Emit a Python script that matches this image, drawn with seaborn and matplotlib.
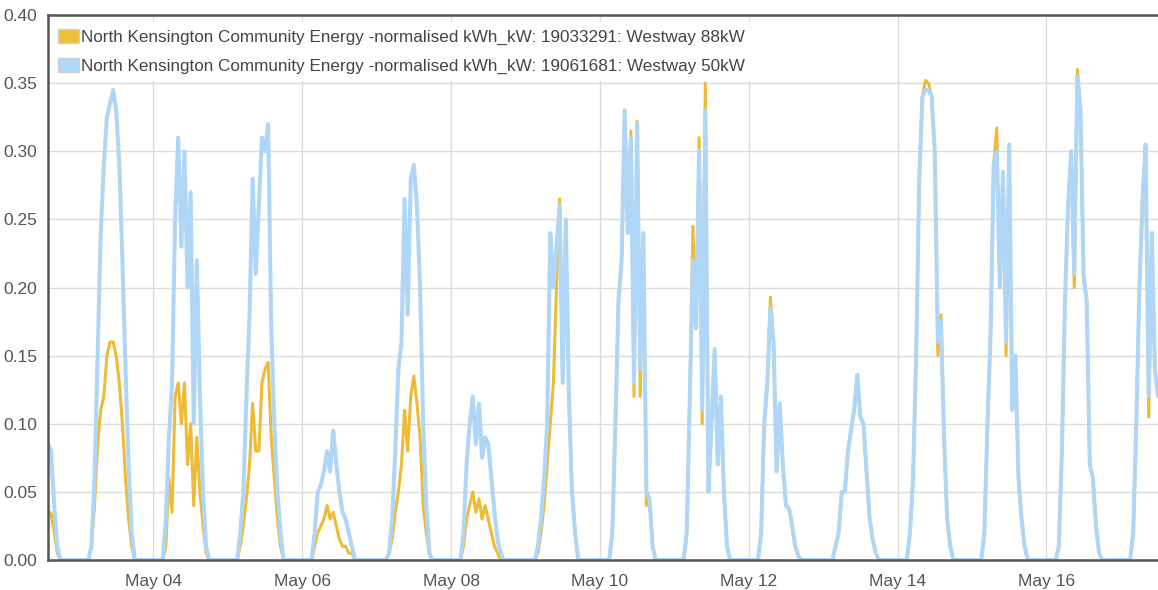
import pandas as pd
import numpy as np
import seaborn as sns
import matplotlib.pyplot as plt
import matplotlib.dates as mdates
from matplotlib.patches import Patch

label_88 = "North Kensington Community Energy -normalised kWh_kW: 19033291: Westway 88kW"
label_50 = "North Kensington Community Energy -normalised kWh_kW: 19061681: Westway 50kW"

# daylight readings per day, hourly, starting at first_hour (nights are 0)
days = ["2017-05-02", "2017-05-03", "2017-05-04", "2017-05-05", "2017-05-06",
        "2017-05-07", "2017-05-08", "2017-05-09", "2017-05-10", "2017-05-11",
        "2017-05-12", "2017-05-13", "2017-05-14", "2017-05-15", "2017-05-16",
        "2017-05-17"]
first_hour = [14, 3, 3, 3, 3, 3, 3, 3, 3, 3, 3, 3, 3, 3, 3, 3]

westway_50kw = [
    [0.085, 0.08, 0.04, 0.01, 0.0],
    [0.0, 0.01, 0.06, 0.15, 0.24, 0.29, 0.325, 0.335, 0.345, 0.33, 0.29, 0.22, 0.14, 0.07, 0.02, 0.0],
    [0.0, 0.03, 0.09, 0.13, 0.25, 0.31, 0.23, 0.30, 0.20, 0.27, 0.10, 0.22, 0.12, 0.05, 0.01, 0.0],
    [0.0, 0.02, 0.05, 0.12, 0.18, 0.28, 0.21, 0.26, 0.31, 0.30, 0.32, 0.17, 0.10, 0.05, 0.02, 0.0],
    [0.0, 0.02, 0.05, 0.055, 0.065, 0.08, 0.065, 0.095, 0.07, 0.05, 0.035, 0.03, 0.02, 0.01, 0.0, 0.0],
    [0.0, 0.005, 0.03, 0.08, 0.14, 0.16, 0.265, 0.18, 0.28, 0.29, 0.26, 0.20, 0.10, 0.04, 0.005, 0.0],
    [0.0, 0.02, 0.07, 0.10, 0.12, 0.085, 0.115, 0.075, 0.09, 0.085, 0.06, 0.035, 0.015, 0.005, 0.0, 0.0],
    [0.0, 0.01, 0.03, 0.06, 0.10, 0.24, 0.20, 0.23, 0.26, 0.13, 0.25, 0.12, 0.05, 0.02, 0.0, 0.0],
    [0.0, 0.02, 0.10, 0.19, 0.22, 0.33, 0.24, 0.31, 0.13, 0.32, 0.14, 0.24, 0.05, 0.045, 0.01, 0.0],
    [0.0, 0.02, 0.12, 0.22, 0.17, 0.30, 0.11, 0.33, 0.05, 0.10, 0.155, 0.07, 0.12, 0.05, 0.01, 0.0],
    [0.0, 0.02, 0.10, 0.13, 0.185, 0.16, 0.065, 0.115, 0.07, 0.04, 0.038, 0.025, 0.01, 0.003, 0.0, 0.0],
    [0.0, 0.01, 0.02, 0.05, 0.05, 0.08, 0.095, 0.11, 0.136, 0.105, 0.10, 0.065, 0.03, 0.015, 0.005, 0.0],
    [0.0, 0.02, 0.06, 0.15, 0.28, 0.34, 0.345, 0.345, 0.34, 0.30, 0.16, 0.175, 0.09, 0.03, 0.01, 0.0],
    [0.0, 0.02, 0.10, 0.165, 0.29, 0.30, 0.20, 0.285, 0.16, 0.305, 0.11, 0.15, 0.06, 0.03, 0.01, 0.0],
    [0.0, 0.01, 0.08, 0.19, 0.26, 0.30, 0.21, 0.355, 0.33, 0.21, 0.19, 0.07, 0.06, 0.025, 0.005, 0.0],
    [0.0, 0.02, 0.10, 0.20, 0.26, 0.305, 0.12, 0.24, 0.14, 0.12],
]

westway_88kw = [
    [0.036, 0.034, 0.02, 0.005, 0.0],
    [0.0, 0.01, 0.04, 0.085, 0.11, 0.12, 0.15, 0.16, 0.16, 0.15, 0.13, 0.10, 0.06, 0.03, 0.01, 0.0],
    [0.0, 0.01, 0.06, 0.035, 0.12, 0.13, 0.10, 0.13, 0.07, 0.10, 0.04, 0.09, 0.05, 0.025, 0.005, 0.0],
    [0.0, 0.01, 0.025, 0.045, 0.07, 0.115, 0.08, 0.08, 0.13, 0.14, 0.145, 0.09, 0.06, 0.03, 0.01, 0.0],
    [0.0, 0.01, 0.02, 0.025, 0.03, 0.04, 0.03, 0.035, 0.025, 0.015, 0.01, 0.01, 0.005, 0.005, 0.0, 0.0],
    [0.0, 0.005, 0.015, 0.035, 0.05, 0.07, 0.11, 0.08, 0.12, 0.135, 0.115, 0.09, 0.04, 0.02, 0.005, 0.0],
    [0.0, 0.01, 0.03, 0.04, 0.05, 0.035, 0.045, 0.03, 0.04, 0.03, 0.02, 0.01, 0.005, 0.0, 0.0, 0.0],
    [0.0, 0.005, 0.02, 0.04, 0.07, 0.10, 0.13, 0.20, 0.265, 0.13, 0.25, 0.12, 0.05, 0.02, 0.0, 0.0],
    [0.0, 0.02, 0.10, 0.19, 0.22, 0.33, 0.24, 0.315, 0.12, 0.322, 0.12, 0.24, 0.04, 0.045, 0.01, 0.0],
    [0.0, 0.02, 0.12, 0.245, 0.17, 0.31, 0.10, 0.35, 0.05, 0.10, 0.155, 0.07, 0.12, 0.05, 0.01, 0.0],
    [0.0, 0.02, 0.10, 0.13, 0.193, 0.16, 0.065, 0.115, 0.07, 0.04, 0.038, 0.025, 0.01, 0.003, 0.0, 0.0],
    [0.0, 0.01, 0.02, 0.05, 0.05, 0.08, 0.095, 0.11, 0.136, 0.105, 0.10, 0.065, 0.03, 0.015, 0.005, 0.0],
    [0.0, 0.02, 0.06, 0.15, 0.28, 0.34, 0.352, 0.35, 0.34, 0.30, 0.15, 0.18, 0.09, 0.03, 0.01, 0.0],
    [0.0, 0.02, 0.10, 0.17, 0.29, 0.317, 0.20, 0.285, 0.15, 0.30, 0.11, 0.15, 0.06, 0.03, 0.01, 0.0],
    [0.0, 0.01, 0.08, 0.19, 0.26, 0.30, 0.20, 0.36, 0.33, 0.205, 0.19, 0.07, 0.06, 0.025, 0.005, 0.0],
    [0.0, 0.02, 0.10, 0.20, 0.27, 0.30, 0.105, 0.24, 0.14, 0.12],
]

yellow = "#EDBB35"
blue = "#AFD6F6"

# build hourly frame, zero at night
idx = pd.date_range("2017-05-02 14:00", "2017-05-17 12:00", freq="h")
df = pd.DataFrame(0.0, index=idx, columns=[label_88, label_50])
for day, h0, v50, v88 in zip(days, first_hour, westway_50kw, westway_88kw):
    rng = pd.date_range(pd.Timestamp(day) + pd.Timedelta(hours=h0), periods=len(v50), freq="h")
    df.loc[rng, label_50] = v50
    df.loc[rng, label_88] = v88
df.index.name = "time"
long_df = df.reset_index().melt(id_vars="time", var_name="series", value_name="kwh")

sns.set_style("white")
plt.rcParams["font.family"] = ["Liberation Sans", "DejaVu Sans"]

fig = plt.figure(figsize=(11.58, 5.9), dpi=100)
ax = fig.add_axes([48 / 1158, 30 / 590, 1 - 48 / 1158, 545 / 590])

sns.lineplot(data=long_df, x="time", y="kwh", hue="series",
             hue_order=[label_88, label_50], palette=[yellow, blue],
             ax=ax, legend=False, estimator=None)
lines = ax.get_lines()
lines[0].set_linewidth(2.2)
lines[1].set_linewidth(2.9)

ax.set_xlim(idx[0], idx[-1])
ax.set_ylim(0, 0.40)
ax.set_yticks(np.arange(0, 0.401, 0.05))
ax.yaxis.set_major_formatter(plt.FormatStrFormatter("%.2f"))
ax.xaxis.set_major_locator(mdates.DayLocator(bymonthday=[4, 6, 8, 10, 12, 14, 16]))
ax.xaxis.set_major_formatter(mdates.DateFormatter("%b %d"))
ax.set_xlabel("")
ax.set_ylabel("")
ax.grid(True, color="#dcdcdc", linewidth=1)
ax.set_axisbelow(True)
ax.tick_params(axis="y", length=0, labelsize=12.5, labelcolor="#555555", pad=8)
ax.tick_params(axis="x", length=0, labelsize=12.5, labelcolor="#555555", pad=10)

for s in ["left", "bottom", "top"]:
    ax.spines[s].set_color("#555555")
    ax.spines[s].set_linewidth(1.8)
ax.spines["right"].set_visible(False)

handles = [Patch(facecolor="#EFC03E", edgecolor="#d0d0d0", label=label_88),
           Patch(facecolor="#B0D8F6", edgecolor="#d0d0d0", label=label_50)]
leg = ax.legend(handles=handles, loc="upper left",
                bbox_to_anchor=(51 / 1158, 1 - 22 / 590), bbox_transform=fig.transFigure,
                borderaxespad=0, frameon=True, fontsize=12.3, handlelength=1.23,
                handleheight=0.88, handletextpad=0.12, labelspacing=0.76, borderpad=0.4,
                fancybox=False, framealpha=1)
leg.get_frame().set_edgecolor("white")
leg.get_frame().set_linewidth(0)
for t in leg.get_texts():
    t.set_color("#444444")

fig.savefig("out.png", dpi=100)
